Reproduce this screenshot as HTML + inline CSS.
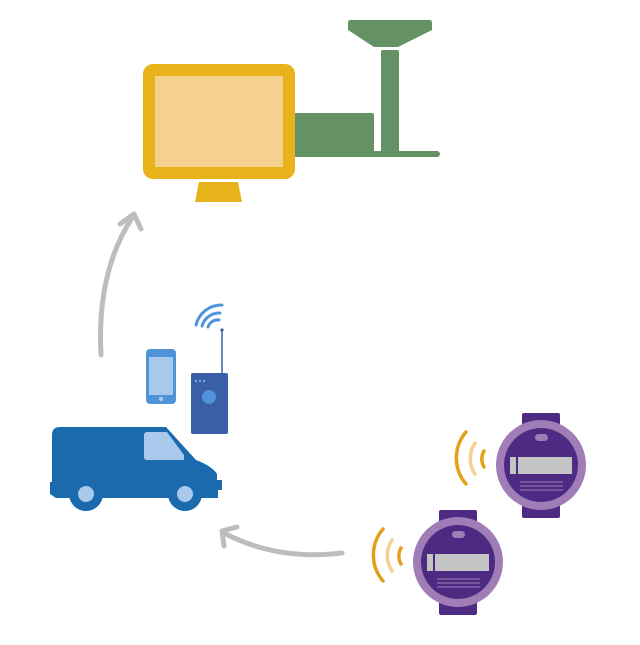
<!DOCTYPE html>
<html><head><style>html,body{margin:0;padding:0;background:#fff}</style></head><body>
<svg width="640" height="640" viewBox="0 0 640 640" xmlns="http://www.w3.org/2000/svg">
<!-- arrows -->
<g fill="none" stroke="#BDBDBD" stroke-width="5" stroke-linecap="round" stroke-linejoin="round">
<path d="M101,355 C98,300 108,255 132,218"/>
<path d="M120,224 L134,214 L141,229"/>
<path d="M342,553 C300,558 260,552 224,533"/>
<path d="M224,546 L222,531 L237,527"/>
</g>
<!-- green antenna -->
<g fill="#659264">
<path d="M350,20 H430 Q432,20 432,23 V30 L398,47 H374 L348,30 V23 Q348,20 350,20Z"/>
<rect x="381" y="50" width="18" height="104" rx="2"/>
<rect x="292" y="113" width="82" height="42" rx="2"/>
<rect x="292" y="151" width="148" height="6" rx="3"/>
</g>
<!-- monitor -->
<rect x="143" y="64" width="152" height="115" rx="10" fill="#E8B21A"/>
<rect x="155" y="76" width="128" height="91" fill="#F5D18F"/>
<path d="M199,182 H238 L242,202 H195Z" fill="#E8B21A"/>
<!-- phone -->
<rect x="146" y="349" width="30" height="55" rx="4" fill="#4F93D8"/>
<rect x="149" y="357" width="24" height="38" fill="#A8C8EC"/>
<circle cx="161" cy="399" r="2.2" fill="#A8C8EC"/>
<!-- reader -->
<rect x="191" y="373" width="37" height="61" rx="2" fill="#3A5FA6"/>
<line x1="222" y1="374" x2="222" y2="330" stroke="#3A5FA6" stroke-width="1.5"/>
<circle cx="222" cy="330" r="1.6" fill="#3A5FA6"/>
<circle cx="209" cy="397" r="7" fill="#4F93D8"/>
<circle cx="196" cy="381" r="1.2" fill="#6FA6E0"/><circle cx="200" cy="381" r="1.2" fill="#6FA6E0"/><circle cx="204" cy="381" r="1.2" fill="#6FA6E0"/>
<g fill="none" stroke="#4F93D8" stroke-width="3" stroke-linecap="round">
<path d="M196,325 A26,26 0 0 1 222,305"/>
<path d="M202,326 A18,18 0 0 1 220,313"/>
<path d="M208,327 A10,10 0 0 1 219,320"/>
</g>
<!-- van -->
<path d="M60,427 H166 L196,460 Q212,466 217,474 V480 H222 V490 H218 V498 H56 L50,494 V482 H52 V435 Q52,427 60,427Z" fill="#1B6AAE"/>
<path d="M146,432 H167 L184,455 V460 H147 Q144,460 144,457 V434Z" fill="#A8C8EC"/>
<circle cx="86" cy="494" r="17" fill="#1B6AAE"/><circle cx="86" cy="494" r="8" fill="#A8C8EC"/>
<circle cx="185" cy="494" r="17" fill="#1B6AAE"/><circle cx="185" cy="494" r="8" fill="#A8C8EC"/>
<!-- meters -->
<g id="m1">
<rect x="522" y="413" width="38" height="105" rx="2" fill="#4E2B82"/>
<circle cx="541" cy="465" r="45" fill="#A07DB7"/>
<circle cx="541" cy="465" r="37" fill="#4E2B82"/>
<rect x="535" y="434" width="13" height="7" rx="3.5" fill="#A07DB7"/>
<rect x="510" y="457" width="6" height="17" fill="#C4C4C4"/>
<rect x="518" y="457" width="54" height="17" fill="#C4C4C4"/>
<g stroke="#A07DB7" stroke-width="1"><line x1="520" y1="482" x2="563" y2="482"/><line x1="520" y1="486" x2="563" y2="486"/><line x1="520" y1="490" x2="563" y2="490"/></g>
<g fill="none" stroke-linecap="round" stroke-width="3.5">
<path d="M466,432 A40,40 0 0 0 466,484" stroke="#E3A11B"/>
<path d="M475,443 A28,28 0 0 0 475,474" stroke="#F5D18F"/>
<path d="M484,451 A16,16 0 0 0 484,467" stroke="#E3A11B"/>
</g>
</g>
<use href="#m1" transform="translate(-83,97)"/>
</svg>
</body></html>
